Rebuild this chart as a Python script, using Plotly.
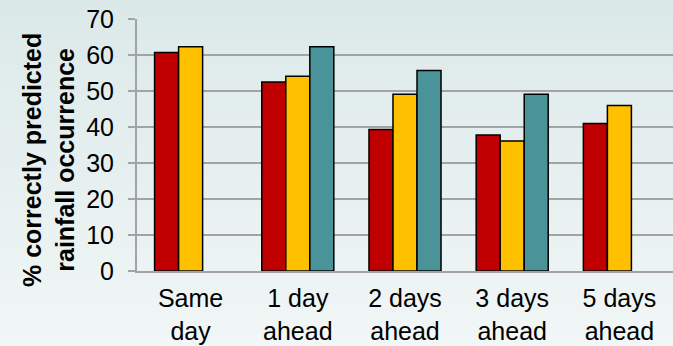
import plotly.graph_objects as go

# Forecast lead times and percentage of rainfall occurrence correctly predicted
categories = ["Same<br>day", "1 day<br>ahead", "2 days<br>ahead", "3 days<br>ahead", "5 days<br>ahead"]
series_a = [60.7, 52.5, 39.3, 37.8, 41.0]
series_b = [62.3, 54.1, 49.1, 36.1, 46.0]
series_c = [None, 62.3, 55.7, 49.1, None]
y_ticks = [0, 10, 20, 30, 40, 50, 60, 70]

colors = ["#C00000", "#FFC000", "#4A9499"]

W, H = 673, 346
M_L, M_R, M_T, M_B = 137, 0, 19, 75
plot_h = H - M_T - M_B

fig = go.Figure()
for vals, col in zip([series_a, series_b, series_c], colors):
    fig.add_trace(go.Bar(
        x=categories, y=vals,
        marker=dict(color=col, line=dict(color="#000000", width=1.5)),
        hoverinfo="skip",
    ))

# Soft vertical background gradient built from thin bands
shapes = []
n_bands = 60
top_rgb = (220, 233, 233)
bot_rgb = (241, 246, 246)
for i in range(n_bands):
    t = i / (n_bands - 1)
    r = round(top_rgb[0] + (bot_rgb[0] - top_rgb[0]) * t)
    g = round(top_rgb[1] + (bot_rgb[1] - top_rgb[1]) * t)
    b = round(top_rgb[2] + (bot_rgb[2] - top_rgb[2]) * t)
    py0 = H * i / n_bands
    py1 = H * (i + 1) / n_bands + 1
    y0 = (H - M_B - py1) / plot_h
    y1 = (H - M_B - py0) / plot_h
    shapes.append(dict(
        type="rect", xref="paper", yref="paper",
        x0=-0.5, x1=1.5, y0=y0, y1=y1,
        fillcolor=f"rgb({r},{g},{b})", line=dict(width=0), layer="below",
    ))

font_family = "Liberation Sans, Arial, sans-serif"

fig.update_layout(
    width=W, height=H,
    margin=dict(l=M_L, r=M_R, t=M_T, b=M_B, pad=0),
    paper_bgcolor="#E6EFEF",
    plot_bgcolor="rgba(0,0,0,0)",
    barmode="group",
    bargap=0.328,
    bargroupgap=0,
    showlegend=False,
    font=dict(family=font_family, size=25, color="#000000"),
    shapes=shapes,
    xaxis=dict(
        type="category",
        showline=True, linecolor="#A3A3A3", linewidth=2,
        showgrid=False,
        # invisible ticks only push the category labels a little lower
        ticks="outside", ticklen=4, tickcolor="rgba(0,0,0,0)",
        tickfont=dict(size=25),
        range=[-0.5, 4.5],
    ),
    yaxis=dict(
        range=[0, 70],
        tickvals=y_ticks,
        ticktext=[str(v) + "\u00a0\u200a" for v in y_ticks],
        showline=True, linecolor="#A3A3A3", linewidth=2,
        showgrid=True, gridcolor="#A3A3A3", gridwidth=2,
        ticks="outside", ticklen=7, tickwidth=2, tickcolor="#A3A3A3",
        tickfont=dict(size=25),
        zeroline=False,
    ),
    annotations=[dict(
        text="<b>% correctly predicted<br>rainfall occurrence</b>",
        textangle=-90,
        xref="paper", yref="paper",
        x=(48 - M_L) / (W - M_L - M_R), y=(H - M_B - 160) / plot_h,
        xanchor="center", yanchor="middle",
        showarrow=False,
        font=dict(family=font_family, size=25, color="#000000"),
    )],
)

fig.write_html("out.html")
